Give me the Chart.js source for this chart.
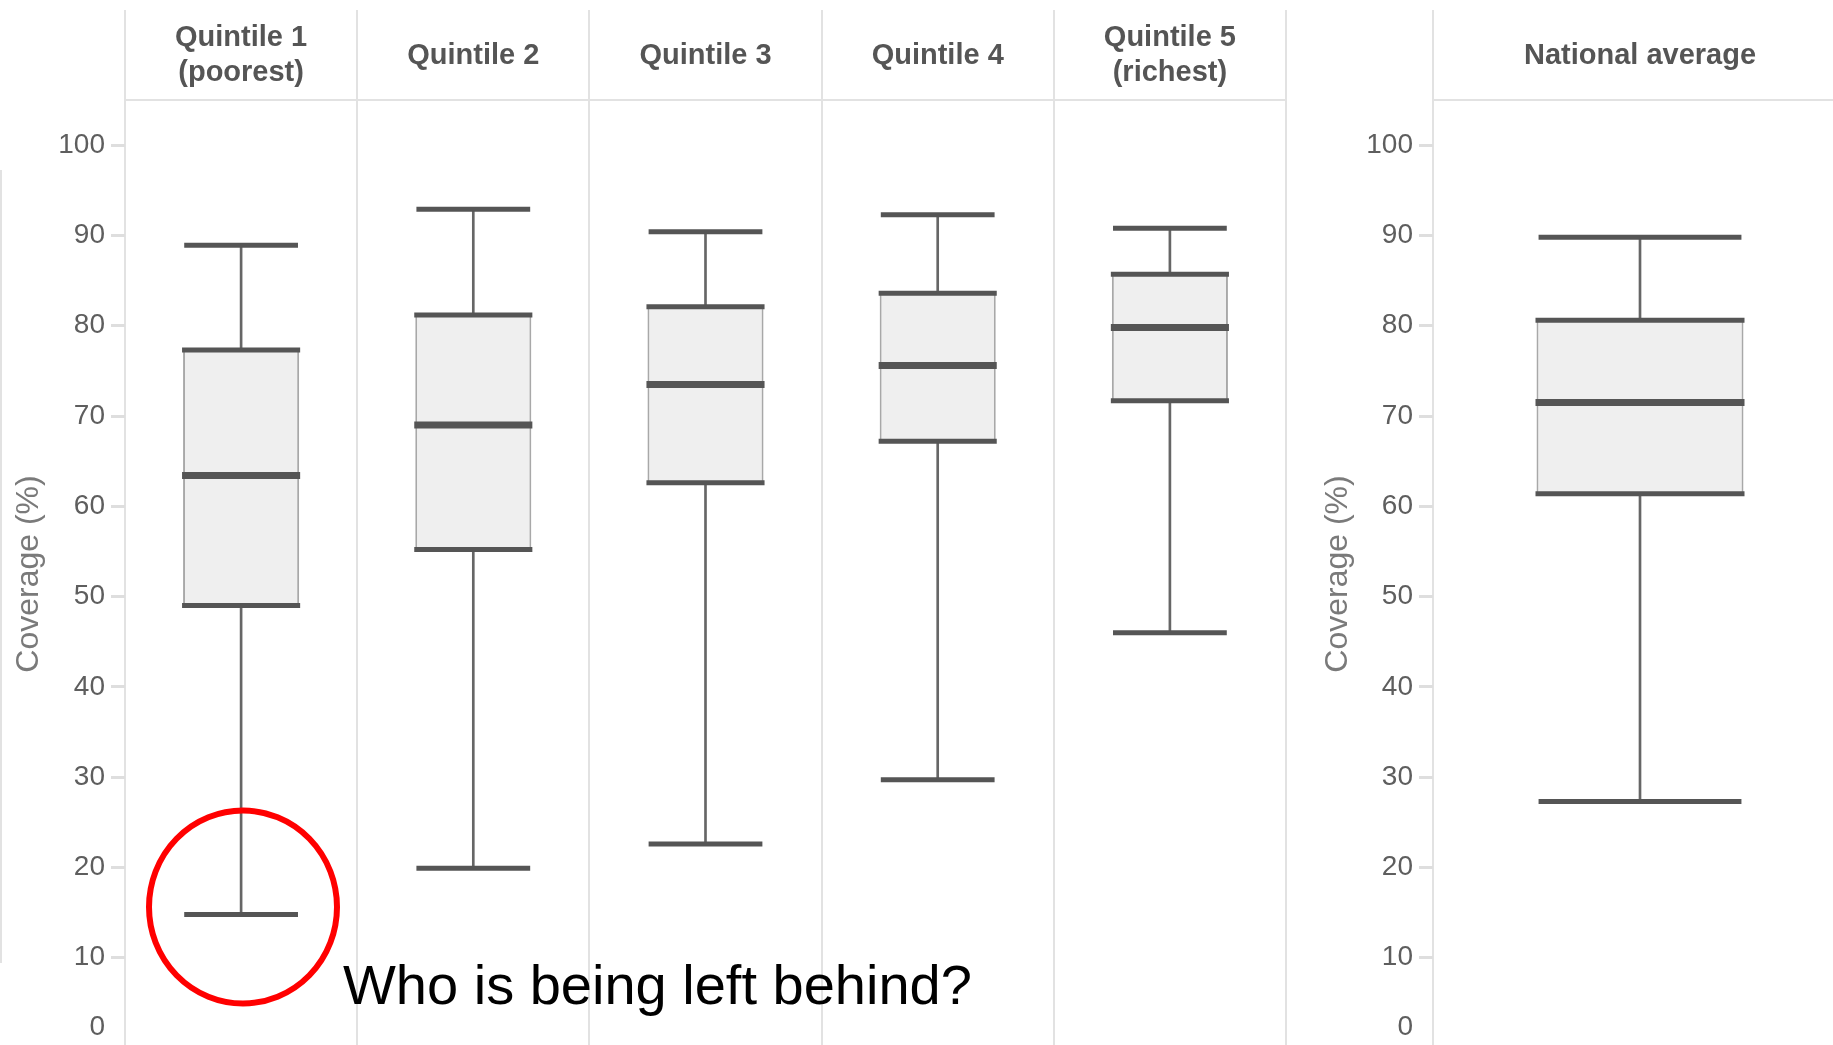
<!DOCTYPE html>
<html><head><meta charset="utf-8">
<script src="https://cdn.jsdelivr.net/npm/chart.js@4.4.1/dist/chart.umd.min.js"></script>
<style>
html,body{margin:0;padding:0;background:#fff;overflow:hidden;width:1833px;height:1045px;}
#wrap{position:relative;width:1833px;height:1045px;overflow:hidden;background:#fff;}
#c1{position:absolute;left:0;top:0;}
#c2{position:absolute;left:1290px;top:0;}
#edge{position:absolute;left:0;top:170px;width:2px;height:793px;background:#e2e2e2;}
#note{position:absolute;left:343px;top:957px;font-family:"Liberation Sans",Arial,sans-serif;font-size:56px;line-height:1;color:#000;white-space:nowrap;}
svg{position:absolute;left:0;top:0;}
</style></head><body>
<div id="wrap">
<canvas id="c1" width="1300" height="1048"></canvas>
<canvas id="c2" width="557" height="1048"></canvas>
<div id="edge"></div>
<div id="note">Who is being left behind?</div>
<svg width="1833" height="1045"><ellipse cx="243" cy="907" rx="94" ry="96.5" fill="none" stroke="#ff0000" stroke-width="6"/></svg>
</div>
<script>
// ---- data ----
const quintileLabels = [['Quintile 1', '(poorest)'], 'Quintile 2', 'Quintile 3', 'Quintile 4', ['Quintile 5', '(richest)']];
const quintileMin    = [14.8, 19.9, 22.6, 29.7, 46.0];
const quintileQ1     = [49.0, 55.2, 62.6, 67.2, 71.7];
const quintileMedian = [63.4, 69.0, 73.5, 75.6, 79.8];
const quintileQ3     = [77.3, 81.2, 82.1, 83.6, 85.7];
const quintileMax    = [88.9, 92.9, 90.4, 92.3, 90.8];

const nationalLabels = ['National average'];
const nationalMin    = [27.3];
const nationalQ1     = [61.4];
const nationalMedian = [71.5];
const nationalQ3     = [80.6];
const nationalMax    = [89.8];

const yAxisTitle = 'Coverage (%)';
const yMin = 0, yMax = 105, yStep = 10;

// ---- rendering ----
const FONT = "'Liberation Sans', Arial, sans-serif";
const DARK = '#555555';

function boxDatasets(mins, q1s, meds, q3s, maxs) {
  const pair = (a, b) => a.map((v, i) => [v, b[i]]);
  const half = (f, add) => (ctx) => {
    const s = ctx.chart.scales.x;
    if (!s || !s.ticks || !s.ticks.length) return 50;
    return s.width / s.ticks.length * f + add;
  };
  const mark = (data, f, add, w) => ({
    type: 'line', data, showLine: false, pointStyle: 'line',
    pointRadius: half(f, add), pointHoverRadius: half(f, add),
    pointBorderWidth: w, pointHoverBorderWidth: w,
    pointBorderColor: DARK, pointBackgroundColor: DARK, borderColor: DARK,
    order: 0, clip: false
  });
  return [
    mark(maxs, 0.245, 0, 5),
    mark(mins, 0.245, 0, 5),
    mark(q3s, 0.25, 1, 5),
    mark(q1s, 0.25, 1, 5),
    mark(meds, 0.25, 1, 7),
    { type: 'bar', data: pair(q1s, q3s), backgroundColor: '#efefef', borderColor: '#a8a8a8',
      borderWidth: { left: 2, right: 2, top: 0, bottom: 0 }, borderSkipped: false,
      barPercentage: 0.5, categoryPercentage: 1, grouped: false, order: 1 },
    { type: 'bar', data: pair(mins, maxs), backgroundColor: '#666666', borderWidth: 0,
      barThickness: 2, grouped: false, order: 2 }
  ];
}

function makeChart(id, labels, datasets, yAxisWidth, titlePad, rightPad, labelPad) {
  return new Chart(document.getElementById(id), {
    type: 'bar',
    data: { labels, datasets },
    options: {
      responsive: false, animation: false, events: [],
      layout: { autoPadding: false, padding: { top: 10, right: rightPad, bottom: 0, left: 0 } },
      plugins: { legend: { display: false }, tooltip: { enabled: false } },
      scales: {
        x: {
          type: 'category', position: 'top', offset: true,
          grid: { offset: true, color: '#e2e2e2', lineWidth: 2, drawTicks: true, tickLength: 90, tickColor: '#e2e2e2', tickWidth: 2 },
          border: { display: true, color: '#e2e2e2', width: 2 },
          ticks: { font: { family: FONT, size: 29, weight: 'bold', lineHeight: 1.2 }, color: '#555',
                   padding: labelPad, crossAlign: 'center', maxRotation: 0, minRotation: 0, autoSkip: false },
          afterFit: (s) => { s.height = 90; s.paddingLeft = 0; s.paddingRight = 0; }
        },
        y: {
          type: 'linear', position: 'left', min: yMin, max: yMax,
          grid: { drawOnChartArea: false, drawTicks: true, tickLength: 14, tickColor: '#dedede', tickWidth: 3 },
          border: { display: false },
          ticks: { stepSize: yStep, includeBounds: false, autoSkip: false, padding: 6, color: '#5e5e5e',
                   font: { family: FONT, size: 28, lineHeight: 1.5 },
                   callback: (v) => v === 0 ? ['0', ''] : String(v) },
          title: { display: true, text: yAxisTitle, color: '#7a7a7a', font: { family: FONT, size: 32, lineHeight: 1.2 },
                   padding: { top: titlePad, bottom: 0 } },
          afterFit: (s) => { s.width = yAxisWidth; s.paddingTop = 0; s.paddingBottom = 0; }
        }
      }
    }
  });
}

makeChart('c1', quintileLabels,
  boxDatasets(quintileMin, quintileQ1, quintileMedian, quintileQ3, quintileMax), 125, 10, 14, -63);
makeChart('c2', nationalLabels,
  boxDatasets(nationalMin, nationalQ1, nationalMedian, nationalQ3, nationalMax), 143, 29, 0, -46);
</script>
</body></html>
